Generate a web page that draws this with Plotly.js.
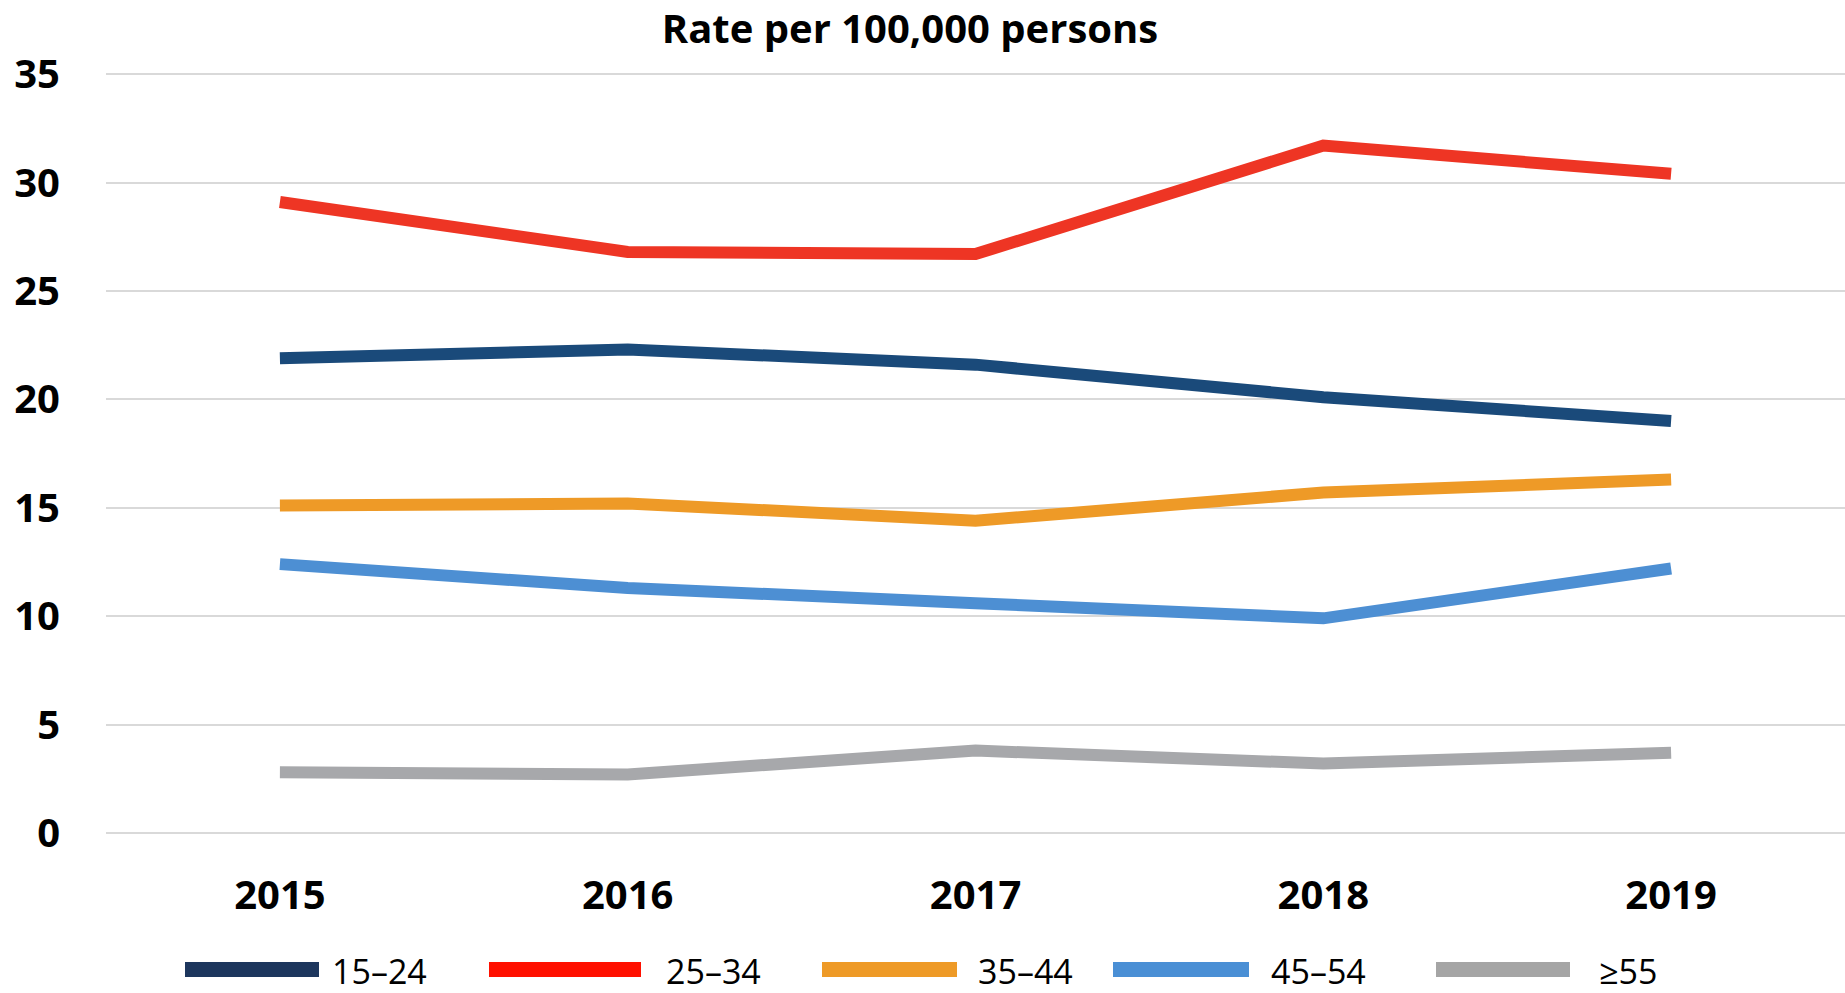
<!DOCTYPE html>
<html>
<head>
<meta charset="utf-8">
<script src="https://cdn.plot.ly/plotly-3.0.1.min.js"></script>
<style>
  html, body { margin: 0; padding: 0; background: #ffffff; }
  #chart { width: 1845px; height: 993px; }
</style>
</head>
<body>
<div id="chart"></div>
<script>
// ---- Data ----
var years = ['2015', '2016', '2017', '2018', '2019'];
var seriesNames = ['15–24', '25–34', '35–44', '45–54', '≥55'];
var age15to24 = [21.9, 22.3, 21.6, 20.1, 19.0];
var age25to34 = [29.1, 26.8, 26.7, 31.7, 30.4];
var age35to44 = [15.1, 15.2, 14.4, 15.7, 16.3];
var age45to54 = [12.4, 11.3, 10.6, 9.9, 12.2];
var age55plus = [2.8, 2.7, 3.8, 3.2, 3.7];
var yTickValues = [0, 5, 10, 15, 20, 25, 30, 35];
var chartTitle = 'Rate per 100,000 persons';

// ---- Styles ----
var lineColors = ['#1a4a7a', '#ee3524', '#ee9a27', '#4d8fd3', '#a7a8ab'];
var legendColors = ['#1d365d', '#ff1000', '#ee9a27', '#4a8fd5', '#a5a5a5'];
var seriesValues = [age15to24, age25to34, age35to44, age45to54, age55plus];

var W = 1845, H = 993;
var M = {l: 106, r: 0, t: 73, b: 160};
var plotW = W - M.l - M.r, plotH = H - M.t - M.b;
function px2x(px) { return (px - M.l) / plotW; }
function py2y(py) { return (H - M.b - py) / plotH; }

var traces = seriesValues.map(function (vals, i) {
  return {
    type: 'scatter',
    mode: 'lines',
    name: seriesNames[i],
    x: years,
    y: vals,
    line: {color: lineColors[i], width: 12},
    showlegend: false,
    hoverinfo: 'x+y+name'
  };
});

// custom legend (line samples + labels)
var legendLineStart = [185, 489, 822, 1113, 1436];
var legendLineEnd = [319, 641, 957, 1249, 1570];
var legendTextStart = [333, 667, 979, 1272, 1600];
var legendY = 969.5;
var shapes = [], annotations = [];
seriesNames.forEach(function (nm, i) {
  shapes.push({
    type: 'line', xref: 'paper', yref: 'paper',
    x0: px2x(legendLineStart[i]), x1: px2x(legendLineEnd[i]),
    y0: py2y(legendY), y1: py2y(legendY),
    line: {color: legendColors[i], width: 15}
  });
  annotations.push({
    xref: 'paper', yref: 'paper',
    x: px2x(legendTextStart[i] - 2), y: py2y(legendY + 1),
    xanchor: 'left', yanchor: 'middle',
    text: nm, showarrow: false, borderpad: 0,
    font: {family: 'Open Sans', size: 34, color: '#000000'}
  });
});

var layout = {
  width: W, height: H,
  margin: M,
  paper_bgcolor: '#ffffff',
  plot_bgcolor: '#ffffff',
  showlegend: false,
  title: {
    text: chartTitle,
    font: {family: 'Open Sans', size: 40, color: '#000000', weight: 700},
    x: 910 / W, xref: 'container', xanchor: 'center',
    y: 1 - 29 / H, yref: 'container', yanchor: 'middle'
  },
  xaxis: {
    type: 'category',
    range: [-0.5, 4.5],
    showgrid: false, zeroline: false, showline: false,
    ticks: '',
    tickfont: {family: 'Open Sans', size: 40, color: '#000000', weight: 700},
    ticklabelstandoff: 35
  },
  yaxis: {
    range: [0, 35.05],
    tickvals: yTickValues,
    showgrid: true, gridcolor: '#d9d9d9', gridwidth: 2,
    zeroline: true, zerolinecolor: '#d9d9d9', zerolinewidth: 2,
    showline: false, ticks: '',
    tickfont: {family: 'Open Sans', size: 40, color: '#000000', weight: 700},
    ticklabelstandoff: 45
  },
  shapes: shapes,
  annotations: annotations
};

Plotly.newPlot('chart', traces, layout, {displayModeBar: false, responsive: false});
</script>
</body>
</html>
